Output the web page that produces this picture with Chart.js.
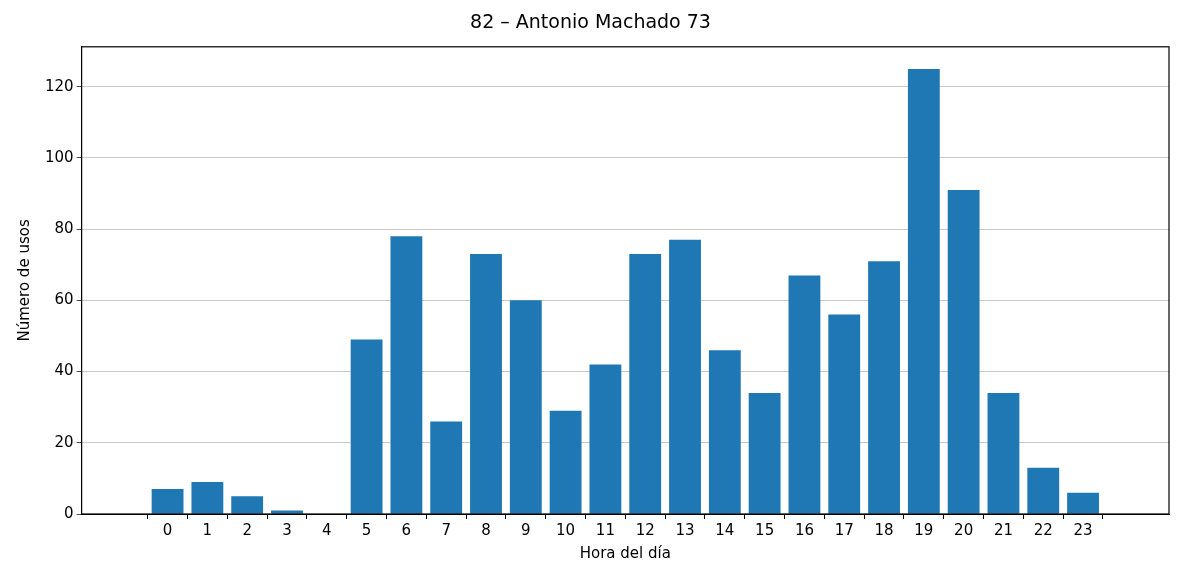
<!DOCTYPE html>
<html><head><meta charset="utf-8">
<script src="https://cdn.jsdelivr.net/npm/chart.js@4/dist/chart.umd.min.js"></script>
<style>html,body{margin:0;padding:0;background:#fff}#w{width:1184px;height:581px}</style>
</head><body><div id="w"><canvas id="c"></canvas></div>
<script>
const hours = [0,1,2,3,4,5,6,7,8,9,10,11,12,13,14,15,16,17,18,19,20,21,22,23];
const usos = [7,9,5,1,0,49,78,26,73,60,29,42,73,77,46,34,67,56,71,125,91,34,13,6];
const yTicks = [0,20,40,60,80,100,120];
const title = "82 – Antonio Machado 73";
const xLabel = "Hora del día";
const yLabel = "Número de usos";

const F = "'DejaVu Sans', sans-serif";
const frame = {id:'frame', afterDraw(ch){const a=ch.chartArea,c=ch.ctx;c.save();c.strokeStyle='#000';c.lineWidth=1.2;c.strokeRect(a.left,a.top,a.right-a.left,a.bottom-a.top);c.restore();}};
new Chart(document.getElementById('c'), {
  type:'bar',
  data:{datasets:[{data:hours.map((h,i)=>({x:h,y:usos[i]})),backgroundColor:'#1f77b4',borderWidth:0,categoryPercentage:1,barPercentage:0.8}]},
  plugins:[frame],
  options:{
    responsive:true, maintainAspectRatio:false, animation:false,
    layout:{padding:{left:12,right:15,top:4,bottom:14}},
    plugins:{legend:{display:false},tooltip:{enabled:false},
      title:{display:true,text:title,color:'#000',font:{family:F,size:19,weight:'normal'},padding:{top:8,bottom:12}}},
    scales:{
      x:{type:'linear',min:-1.59,max:24.59,
        afterBuildTicks(ax){ax.ticks=hours.map(v=>({value:v}));},
        ticks:{color:'#000',font:{family:F,size:15},autoSkip:false,maxRotation:0,padding:3},
        grid:{display:true,drawOnChartArea:false,drawTicks:true,tickLength:5,tickColor:'#000'},
        border:{color:'#000'},
        title:{display:true,text:xLabel,color:'#000',font:{family:F,size:15},padding:{top:2}}},
      y:{min:0,max:131.2,
        afterBuildTicks(ax){ax.ticks=yTicks.map(v=>({value:v}));},
        ticks:{color:'#000',font:{family:F,size:15},padding:3},
        grid:{color:'#b0b0b0',lineWidth:0.7,borderDash:[3,2],drawTicks:true,tickLength:5,tickColor:'#000',tickBorderDash:[]},
        border:{color:'#000'},
        title:{display:true,text:yLabel,color:'#000',font:{family:F,size:15},padding:{bottom:8}}}
    }
  }
});
</script></body></html>
